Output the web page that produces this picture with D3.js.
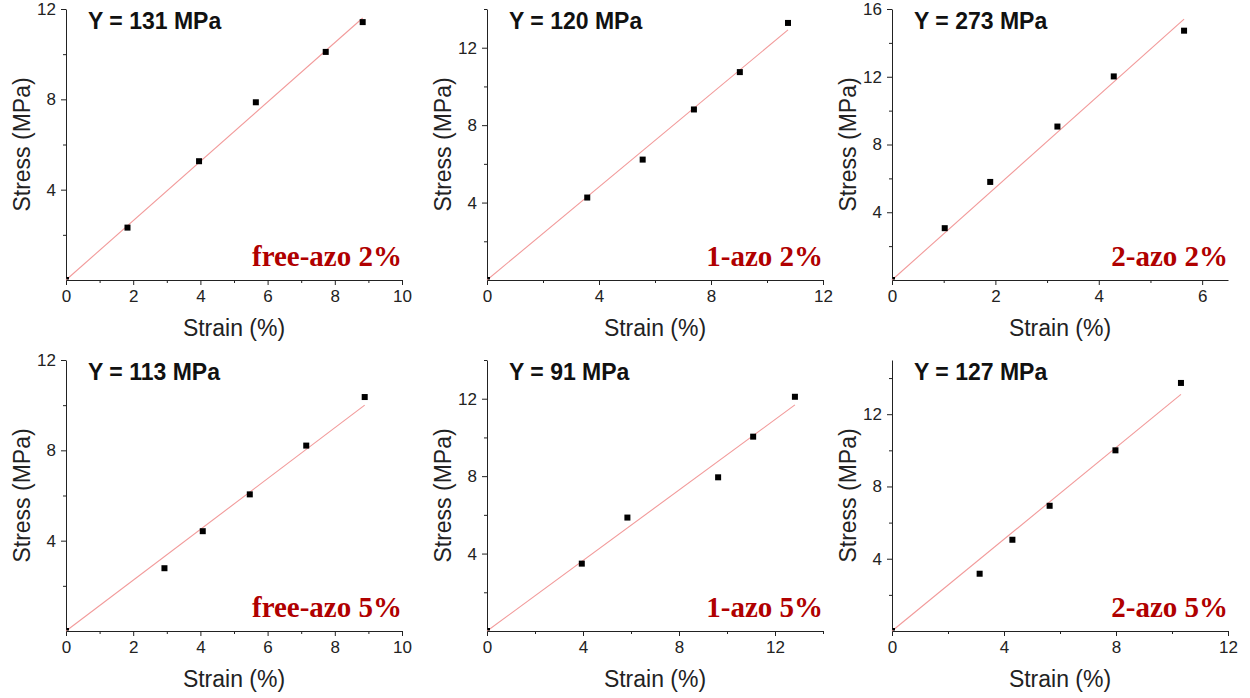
<!DOCTYPE html>
<html>
<head>
<meta charset="utf-8">
<script src="https://cdn.jsdelivr.net/npm/d3@7"></script>
<style>
  body { margin: 0; background: #fff; }
  .tick text { font-family: "Liberation Sans", Arial, sans-serif; font-size: 17px; fill: #222; }
  .domain, .tick line { stroke: #222; }
</style>
</head>
<body>
<svg id="chart" width="1250" height="698"></svg>
<script>
// one entry per panel, row by row
const sampleNames = ['free-azo 2%', '1-azo 2%', '2-azo 2%', 'free-azo 5%', '1-azo 5%', '2-azo 5%']
const modulus = [131, 120, 273, 113, 91, 127]   // MPa

const strain = [
  [0, 1.83, 3.96, 5.65, 7.73, 8.83],
  [0, 3.58, 5.56, 7.39, 9.03, 10.75],
  [0, 1.02, 1.90, 3.20, 4.29, 5.65],
  [0, 2.93, 4.07, 5.47, 7.15, 8.89],
  [0, 3.95, 5.85, 9.63, 11.09, 12.83],
  [0, 3.13, 4.30, 5.63, 7.98, 10.32]
]
const stress = [
  [0, 2.32, 5.26, 7.87, 10.1, 11.42],
  [0, 4.26, 6.22, 8.81, 10.74, 13.28],
  [0, 3.06, 5.79, 9.06, 12.02, 14.72],
  [0, 2.78, 4.42, 6.05, 8.21, 10.36],
  [0, 3.48, 5.86, 7.94, 10.04, 12.1],
  [0, 3.17, 5.05, 6.93, 10.0, 13.73]
]
// linear fit end points (starts at origin)
const fitStrain = [8.83, 10.75, 5.65, 8.89, 12.83, 10.32]
const fitStress = [11.6, 12.92, 15.4, 10.0, 11.68, 13.1]

const xMax = [10, 12, 6.5, 10, 14, 12]
const yMax = [12, 14, 16, 12, 14, 15]
const xTicks = [[0, 2, 4, 6, 8, 10], [0, 4, 8, 12], [0, 2, 4, 6], [0, 2, 4, 6, 8, 10], [0, 4, 8, 12], [0, 4, 8, 12]]
const yTicks = [[4, 8, 12], [4, 8, 12], [4, 8, 12, 16], [4, 8, 12], [4, 8, 12], [4, 8, 12]]
const xMinorStep = [1, 2, 1, 1, 2, 2]
const yMinorStep = [2, 2, 2, 2, 2, 2]

// layout
const colLeft = [66, 487, 892]
const rowTop = [9, 360]
const w = 336, h = 271

const svg = d3.select('#chart')

sampleNames.forEach((name, i) => {
  const col = i % 3, row = Math.floor(i / 3)
  const g = svg.append('g')
    .attr('transform', 'translate(' + colLeft[col] + ',' + rowTop[row] + ')')

  const x = d3.scaleLinear().domain([0, xMax[i]]).range([0, w])
  const y = d3.scaleLinear().domain([0, yMax[i]]).range([h, 0])

  const xMinor = d3.range(0, xMax[i] + 1e-9, xMinorStep[i]).filter(v => !xTicks[i].includes(v))
  const yMinor = d3.range(0, yMax[i] + 1e-9, yMinorStep[i]).filter(v => !yTicks[i].includes(v) && v > 0)

  // minor ticks
  g.append('g')
    .attr('transform', 'translate(0,' + h + ')')
    .call(d3.axisBottom(x).tickValues(xMinor).tickSize(3).tickFormat(''))
    .call(a => a.select('.domain').remove())
  g.append('g')
    .call(d3.axisLeft(y).tickValues(yMinor).tickSize(3).tickFormat(''))
    .call(a => a.select('.domain').remove())

  // major axes
  g.append('g')
    .attr('transform', 'translate(0,' + h + ')')
    .call(d3.axisBottom(x).tickValues(xTicks[i]).tickSize(5).tickSizeOuter(0).tickPadding(5).tickFormat(d3.format('d')))
  g.append('g')
    .call(d3.axisLeft(y).tickValues(yTicks[i]).tickSize(5).tickSizeOuter(0).tickPadding(5).tickFormat(d3.format('d')))

  // fit line
  g.append('line')
    .attr('x1', x(0)).attr('y1', y(0))
    .attr('x2', x(fitStrain[i])).attr('y2', y(fitStress[i]))
    .attr('stroke', '#f29a9a')
    .attr('stroke-width', 1.1)

  // points, clipped to plot area so the origin point is cut by the axes
  g.append('clipPath').attr('id', 'clip' + i)
    .append('rect').attr('x', 0.5).attr('y', -10).attr('width', w + 10).attr('height', h + 9.5)
  g.append('g').attr('clip-path', 'url(#clip' + i + ')')
    .selectAll('rect')
    .data(strain[i].map((s, k) => [s, stress[i][k]]))
    .join('rect')
      .attr('x', d => x(d[0]) - 3)
      .attr('y', d => y(d[1]) - 3)
      .attr('width', 6)
      .attr('height', 6)
      .attr('fill', '#000')

  // modulus label
  g.append('text')
    .attr('x', 22).attr('y', 20)
    .attr('font-family', '"Liberation Sans", Arial, sans-serif')
    .attr('font-weight', 'bold')
    .attr('font-size', 23)
    .attr('fill', '#111')
    .text('Y = ' + modulus[i] + ' MPa')

  // sample label
  g.append('text')
    .attr('x', w).attr('y', h - 14)
    .attr('text-anchor', 'end')
    .attr('font-family', '"Liberation Serif", "Times New Roman", serif')
    .attr('font-weight', 'bold')
    .attr('font-size', 29)
    .attr('fill', '#b00000')
    .text(name)

  // axis titles
  g.append('text')
    .attr('x', w / 2).attr('y', h + 56)
    .attr('text-anchor', 'middle')
    .attr('font-family', '"Liberation Sans", Arial, sans-serif')
    .attr('font-size', 23)
    .attr('fill', '#222')
    .text('Strain (%)')
  g.append('text')
    .attr('transform', 'translate(-36,' + (h / 2) + ') rotate(-90)')
    .attr('text-anchor', 'middle')
    .attr('font-family', '"Liberation Sans", Arial, sans-serif')
    .attr('font-size', 23)
    .attr('fill', '#222')
    .text('Stress (MPa)')
})
</script>
</body>
</html>
